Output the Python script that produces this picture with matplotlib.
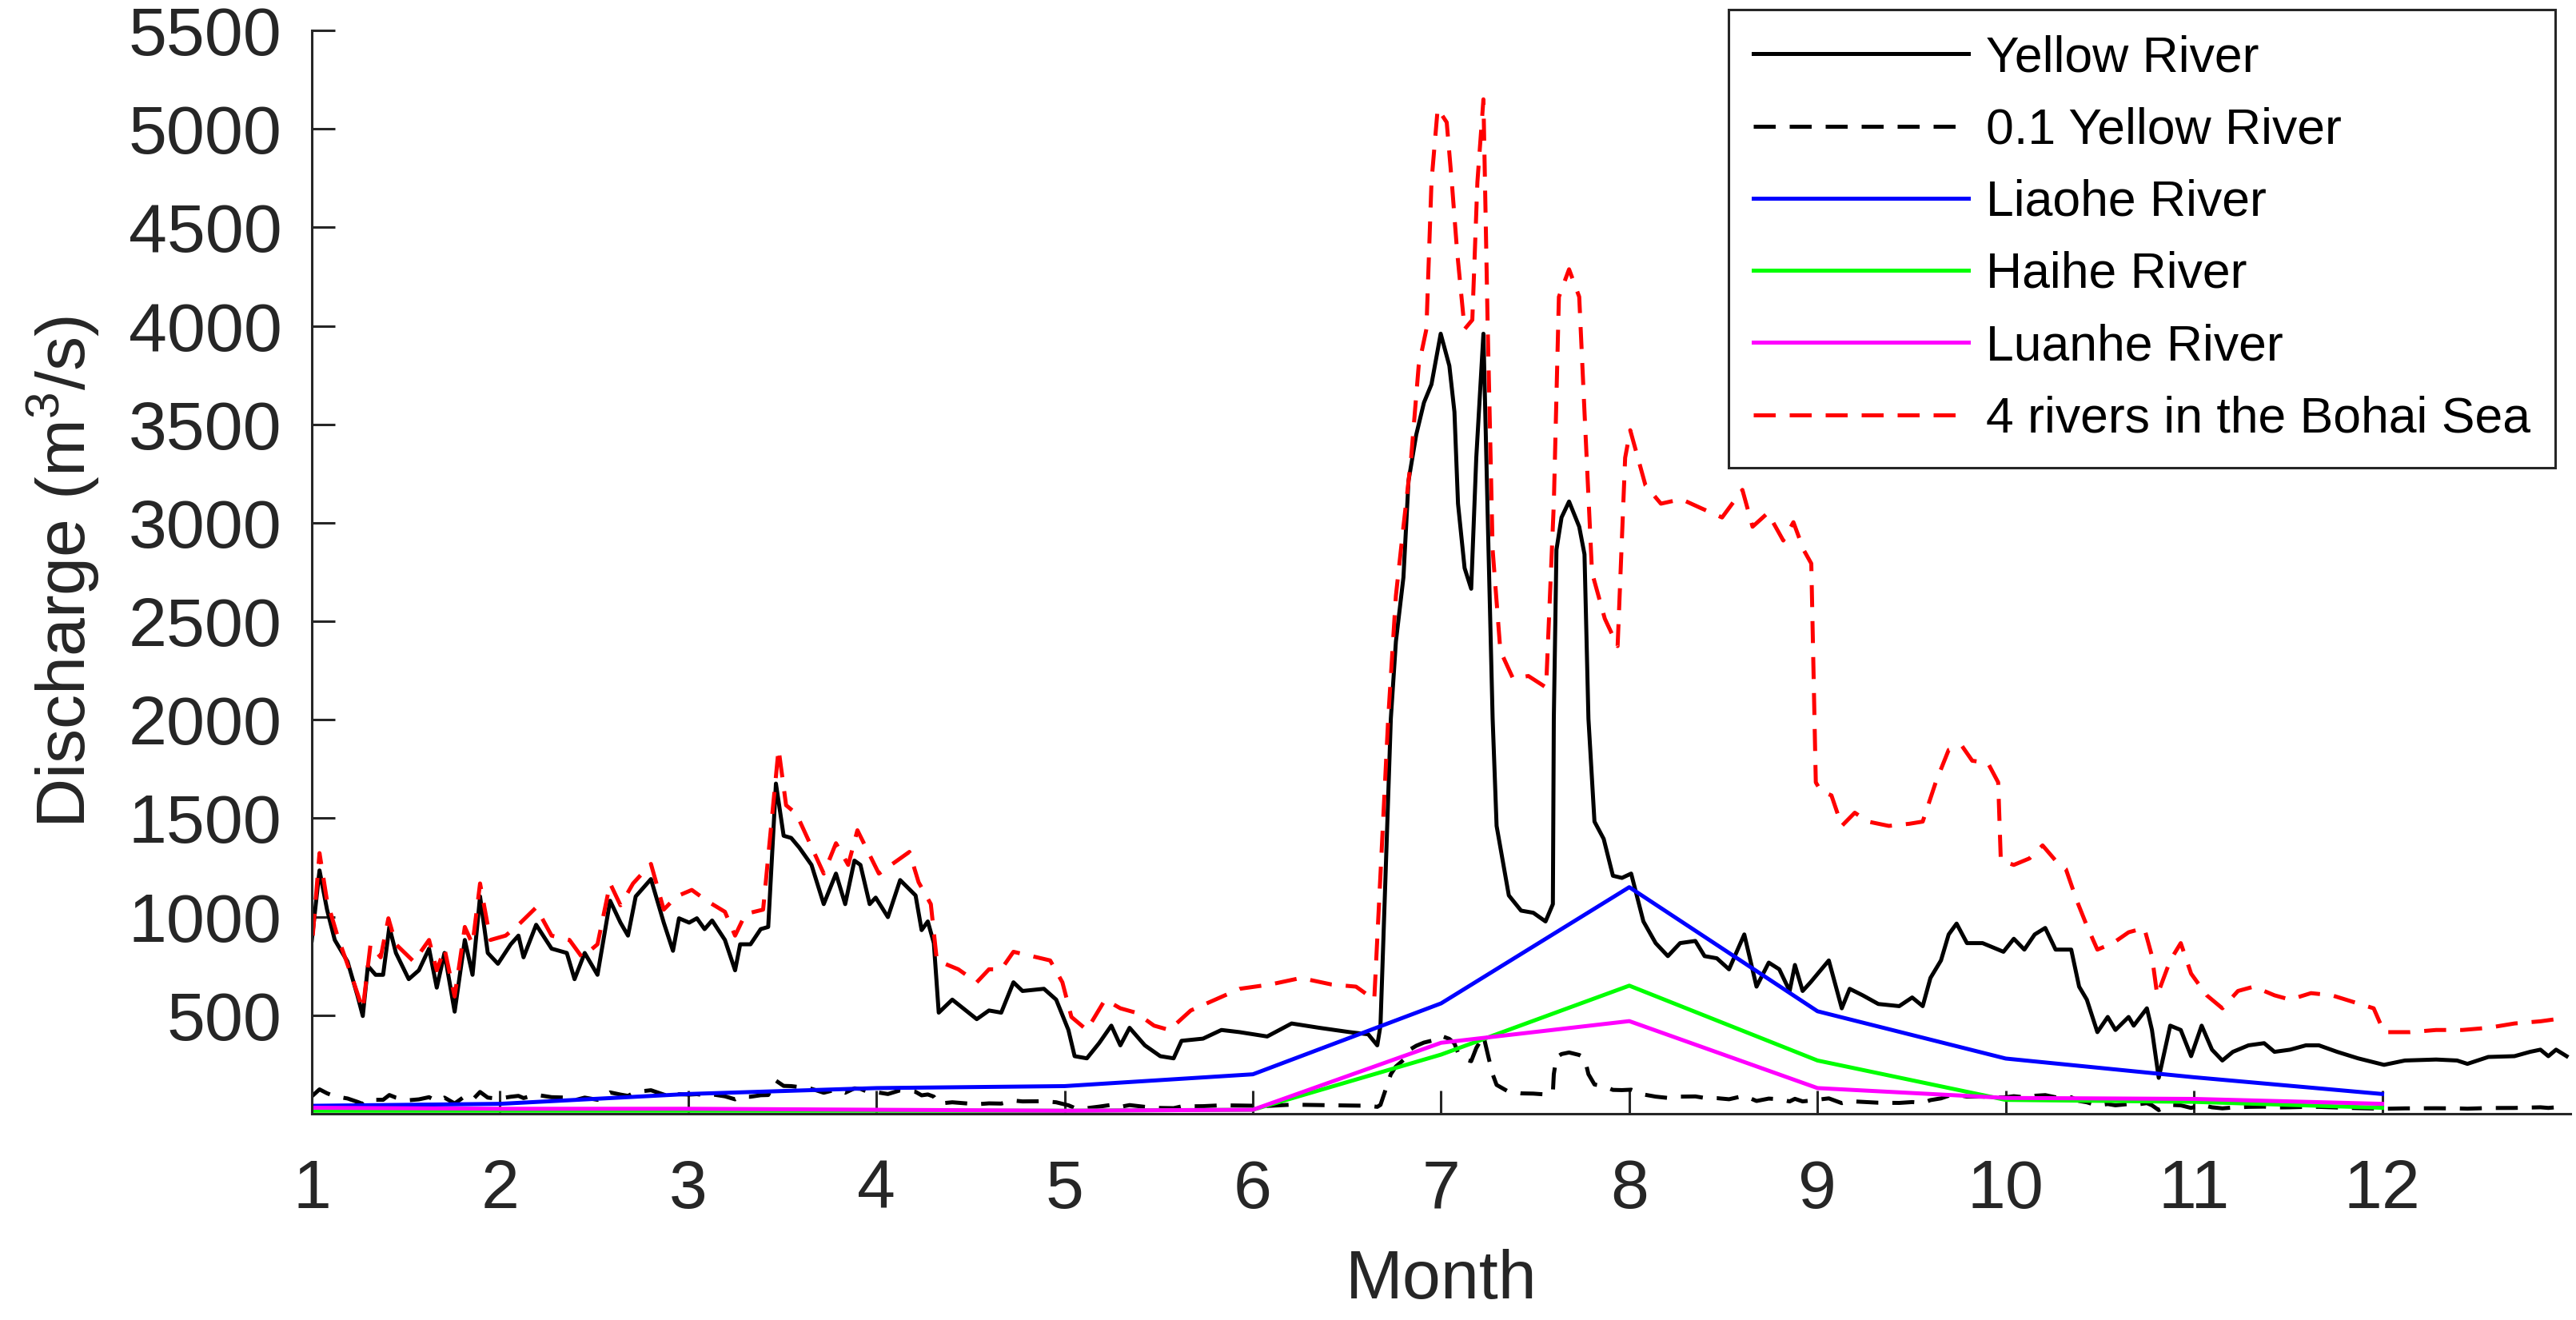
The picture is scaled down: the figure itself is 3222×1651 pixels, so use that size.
import numpy as np
import matplotlib
matplotlib.use("Agg")
import matplotlib.pyplot as plt

plt.rcParams['font.family'] = ['Liberation Sans', 'DejaVu Sans']
plt.rcParams['mathtext.default'] = 'regular'

# Yellow River daily discharge (month, m3/s)
yellow_month = [1.000, 1.041, 1.081, 1.122, 1.190, 1.244, 1.271, 1.298, 1.339, 1.379, 1.412, 1.447,
                1.515, 1.569, 1.623, 1.664, 1.705, 1.759, 1.813, 1.854, 1.894, 1.935, 1.989, 2.057,
                2.098, 2.125, 2.192, 2.274, 2.355, 2.396, 2.450, 2.518, 2.585, 2.640, 2.680, 2.721,
                2.802, 2.870, 2.919, 2.951, 3.005, 3.046, 3.087, 3.127, 3.195, 3.249, 3.276, 3.331,
                3.385, 3.425, 3.466, 3.507, 3.547, 3.590, 3.655, 3.720, 3.785, 3.834, 3.883, 3.915,
                3.964, 3.996, 4.061, 4.126, 4.208, 4.240, 4.273, 4.305, 4.331, 4.403, 4.533, 4.598,
                4.663, 4.728, 4.776, 4.890, 4.955, 5.020, 5.053, 5.118, 5.183, 5.248, 5.296, 5.345,
                5.426, 5.508, 5.579, 5.621, 5.735, 5.833, 5.930, 6.076, 6.206, 6.353, 6.515, 6.613,
                6.661, 6.678, 6.733, 6.760, 6.800, 6.827, 6.868, 6.909, 6.949, 6.998, 7.044, 7.071,
                7.090, 7.125, 7.160, 7.187, 7.225, 7.252, 7.274, 7.295, 7.360, 7.425, 7.490, 7.555,
                7.594, 7.599, 7.613, 7.640, 7.680, 7.734, 7.762, 7.783, 7.815, 7.864, 7.913, 7.961,
                8.010, 8.075, 8.140, 8.205, 8.270, 8.351, 8.400, 8.465, 8.530, 8.611, 8.676, 8.741,
                8.797, 8.852, 8.880, 8.921, 8.963, 9.060, 9.129, 9.171, 9.240, 9.323, 9.434, 9.503,
                9.559, 9.600, 9.656, 9.697, 9.739, 9.794, 9.877, 9.988, 10.043, 10.099, 10.154, 10.210,
                10.265, 10.348, 10.390, 10.431, 10.487, 10.542, 10.583, 10.653, 10.680, 10.750, 10.777, 10.813,
                10.874, 10.930, 10.985, 11.041, 11.096, 11.151, 11.207, 11.290, 11.373, 11.428, 11.511, 11.595,
                11.664, 11.761, 11.872, 12.010, 12.121, 12.287, 12.398, 12.453, 12.564, 12.703, 12.786, 12.841,
                12.883, 12.924, 12.980]
yellow_q = [880, 1235, 1036, 882, 772, 595, 496, 750, 705, 705, 948, 816,
            683, 728, 838, 640, 816, 518, 882, 705, 1103, 816, 761, 860,
            904, 794, 959, 838, 816, 683, 816, 705, 1081, 970, 904, 1103,
            1191, 970, 827, 992, 970, 992, 937, 981, 882, 728, 860, 860,
            937, 948, 1676, 1411, 1400, 1351, 1263, 1064, 1219, 1064, 1285, 1263,
            1064, 1097, 998, 1186, 1108, 932, 976, 866, 513, 579, 480, 524,
            513, 667, 623, 634, 579, 425, 292, 281, 358, 447, 347, 436,
            347, 292, 281, 370, 381, 425, 414, 392, 458, 436, 414, 403,
            347, 447, 2005, 2397, 2723, 3213, 3447, 3610, 3703, 3960, 3797, 3563,
            3097, 2770, 2665, 3330, 3960, 2863, 2005, 1461, 1108, 1031, 1020, 976,
            1064, 2005, 2863, 3027, 3108, 2980, 2840, 2005, 1483, 1395, 1208, 1197,
            1219, 976, 866, 800, 866, 877, 800, 789, 733, 910, 645, 767,
            733, 623, 755, 623, 667, 778, 535, 634, 601, 557, 546, 590,
            546, 689, 778, 910, 965, 866, 866, 822, 888, 833, 910, 943,
            833, 833, 645, 579, 414, 491, 425, 491, 447, 535, 425, 182,
            447, 425, 292, 447, 325, 270, 314, 347, 358, 314, 325, 347,
            347, 314, 281, 248, 270, 275, 270, 253, 288, 292, 314, 325,
            292, 325, 292]

# 0.1 x Yellow River, as in the legend
yellow_tenth = [0.1 * q for q in yellow_q]

# monthly rivers (values at months 1..12)
months = [1, 2, 3, 4, 5, 6, 7, 8, 9, 10, 11, 12]
liaohe = [40, 50, 100, 130, 140, 200, 560, 1150, 520, 280, 185, 100]
haihe = [15, 15, 15, 15, 15, 20, 300, 650, 270, 70, 60, 30]
luanhe = [30, 25, 25, 20, 15, 20, 360, 470, 130, 80, 75, 50]

# sum of 4 rivers into the Bohai Sea (month, m3/s)
bohai_month = [1.005, 1.041, 1.081, 1.136, 1.217, 1.271, 1.312, 1.366, 1.407, 1.447, 1.542, 1.623,
               1.664, 1.705, 1.759, 1.813, 1.854, 1.894, 1.949, 2.030, 2.098, 2.192, 2.274, 2.369,
               2.436, 2.518, 2.585, 2.640, 2.707, 2.802, 2.870, 2.938, 3.019, 3.100, 3.195, 3.249,
               3.304, 3.398, 3.480, 3.520, 3.575, 3.720, 3.785, 3.850, 3.899, 4.013, 4.110, 4.175,
               4.224, 4.289, 4.321, 4.435, 4.533, 4.598, 4.663, 4.728, 4.825, 4.923, 4.988, 5.036,
               5.118, 5.215, 5.296, 5.378, 5.475, 5.556, 5.670, 5.800, 5.930, 6.093, 6.255, 6.418,
               6.548, 6.645, 6.719, 6.760, 6.800, 6.841, 6.881, 6.922, 6.949, 6.982, 7.030, 7.057,
               7.085, 7.125, 7.166, 7.193, 7.225, 7.247, 7.274, 7.315, 7.382, 7.464, 7.558, 7.599,
               7.626, 7.680, 7.734, 7.762, 7.802, 7.870, 7.938, 7.978, 8.005, 8.086, 8.168, 8.276,
               8.384, 8.493, 8.601, 8.655, 8.736, 8.818, 8.872, 8.926, 8.967, 8.991, 9.018, 9.074,
               9.129, 9.198, 9.268, 9.379, 9.489, 9.559, 9.628, 9.697, 9.766, 9.822, 9.905, 9.960,
               9.974, 10.043, 10.126, 10.196, 10.265, 10.320, 10.376, 10.431, 10.487, 10.570, 10.653, 10.736,
               10.777, 10.805, 10.874, 10.930, 10.985, 11.068, 11.151, 11.234, 11.318, 11.428, 11.511, 11.622,
               11.733, 11.844, 11.955, 12.010, 12.149, 12.287, 12.426, 12.564, 12.703, 12.841, 12.924]
bohai_q = [904, 1323, 1080, 904, 684, 529, 860, 794, 992, 860, 772, 882,
           728, 838, 595, 948, 860, 1169, 882, 904, 959, 1047, 904, 882,
           794, 860, 1169, 1058, 1169, 1268, 1036, 1103, 1136, 1080, 1025, 904,
           1014, 1036, 1852, 1566, 1522, 1219, 1373, 1263, 1439, 1219, 1285, 1329,
           1175, 1064, 778, 733, 667, 733, 733, 822, 800, 778, 667, 491,
           425, 579, 535, 513, 447, 425, 524, 579, 634, 656, 689, 656,
           645, 579, 2005, 2630, 2980, 3330, 3797, 3983, 4730, 5103, 5033, 4730,
           4380, 3983, 4030, 4730, 5150, 4030, 2863, 2350, 2210, 2222, 2164, 3097,
           4147, 4287, 4147, 3563, 2747, 2513, 2374, 3330, 3470, 3190, 3097, 3120,
           3073, 3027, 3167, 2980, 3050, 2910, 3003, 2863, 2793, 1682, 1638, 1616,
           1461, 1528, 1483, 1461, 1472, 1483, 1682, 1847, 1869, 1792, 1781, 1682,
           1285, 1263, 1296, 1362, 1285, 1241, 1086, 954, 833, 866, 921, 943,
           800, 601, 778, 866, 711, 601, 535, 623, 645, 601, 579, 612,
           601, 568, 535, 414, 414, 425, 425, 436, 458, 469, 480]

xtick_vals = [1, 2, 3, 4, 5, 6, 7, 8, 9, 10, 11, 12]
ytick_vals = [500, 1000, 1500, 2000, 2500, 3000, 3500, 4000, 4500, 5000, 5500]

axis_col = '#262626'
lw = 3.6
dash = (5.5, 3.5)

fig = plt.figure(figsize=(32.23, 16.51), dpi=100)
ax = fig.add_axes([0.1210, 0.1563, 0.8765, 0.8207])

ax.plot(yellow_month, yellow_q, color='k', lw=lw, label='Yellow River')
ax.plot(yellow_month, yellow_tenth, color='k', lw=lw, ls='--', dashes=dash, label='0.1 Yellow River')
ax.plot(months, liaohe, color=(0, 0, 1), lw=lw, label='Liaohe River')
ax.plot(months, haihe, color=(0, 1, 0), lw=lw, label='Haihe River')
ax.plot(months, luanhe, color=(1, 0, 1), lw=lw, label='Luanhe River')
ax.plot(bohai_month, bohai_q, color=(1, 0, 0), lw=lw, ls='--', dashes=dash, label='4 rivers in the Bohai Sea')

ax.set_xlim(1, 13)
ax.set_ylim(0, 5500)
ax.set_xticks(xtick_vals)
ax.set_yticks(ytick_vals)

for s in ['top', 'right']:
    ax.spines[s].set_visible(False)
for s in ['left', 'bottom']:
    ax.spines[s].set_color(axis_col)
    ax.spines[s].set_linewidth(2.2)

ax.tick_params(axis='both', direction='in', length=21, width=2.2, color=axis_col,
               labelcolor=axis_col, labelsize=62)
ax.tick_params(axis='x', pad=40)
ax.tick_params(axis='y', pad=27)

ax.set_xlabel('Month', fontsize=62, color=axis_col)
ax.set_ylabel('Discharge (m$^{3}$/s)', fontsize=62, color=axis_col)
ax.xaxis.set_label_coords(0.5, -0.125)
ax.yaxis.set_label_coords(-0.093, 0.5)

leg = ax.legend(loc='upper right', bbox_to_anchor=(3196 / 3223, 1 - 12 / 1651),
                bbox_transform=fig.transFigure, borderaxespad=0, fontsize=45,
                handlelength=4.3, handletextpad=0.35, labelspacing=0.5,
                borderpad=0.5, fancybox=False, framealpha=1)
leg.get_frame().set_edgecolor(axis_col)
leg.get_frame().set_linewidth(2.2)

fig.savefig('out.png', dpi=100)
